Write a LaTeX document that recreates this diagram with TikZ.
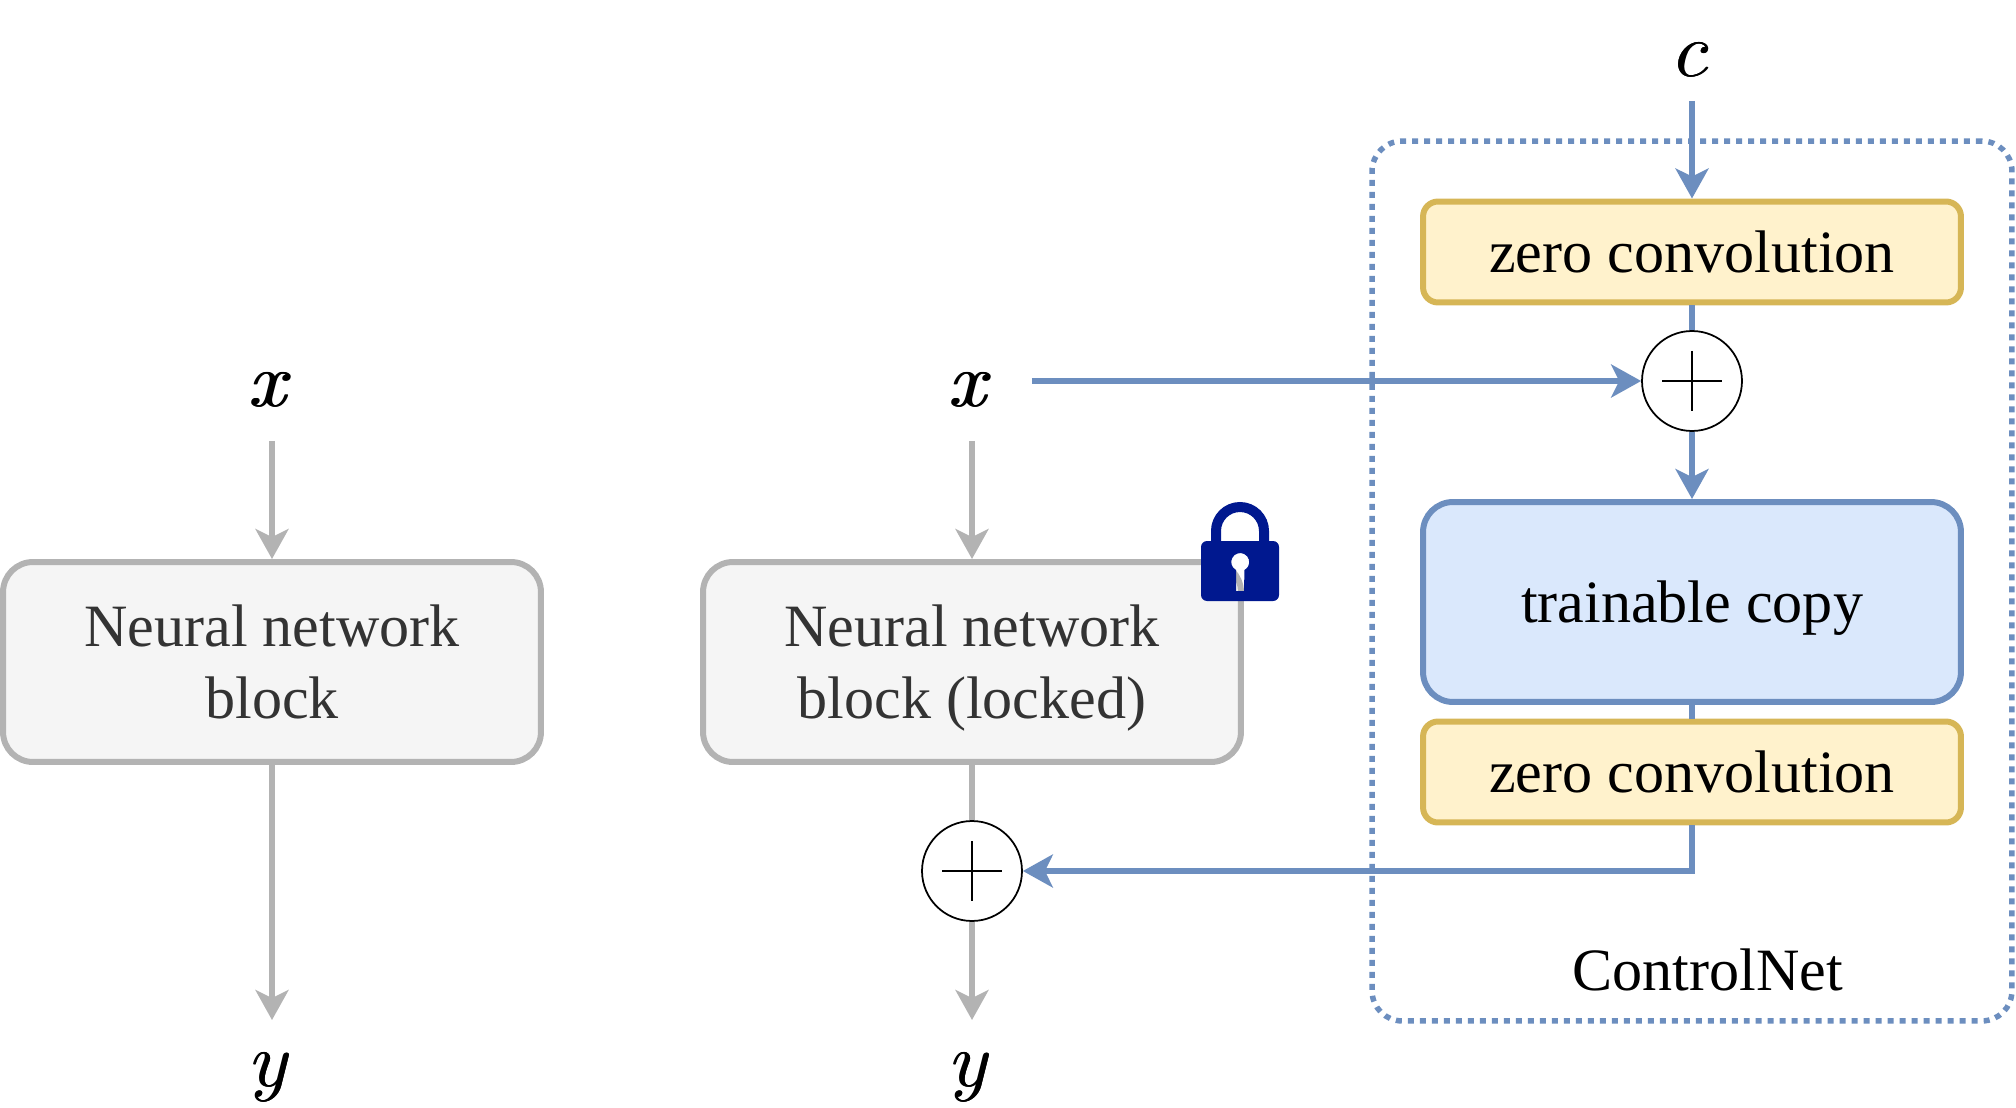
\documentclass[tikz,border=0pt]{standalone}
\usepackage{fix-cm}
\usepackage{fontspec}
\setmainfont{Liberation Serif}
\usetikzlibrary{arrows.meta}
\definecolor{blockfill}{HTML}{F5F5F5}
\definecolor{blockline}{HTML}{B3B3B3}
\definecolor{blocktext}{HTML}{333333}
\definecolor{zerofill}{HTML}{FFF2CC}
\definecolor{zeroline}{HTML}{D6B656}
\definecolor{copyfill}{HTML}{DAE8FC}
\definecolor{copyline}{HTML}{6C8EBF}
\definecolor{lockblue}{HTML}{00188F}
\newcommand{\heavymath}[1]{\rlap{$#1$}\rlap{\kern.4pt$#1$}\kern.8pt$#1$}
\tikzset{
  bigtext/.style={font=\fontsize{34.2}{41}\selectfont},
  block/.style={shape=rectangle,draw=blockline,fill=blockfill,text=blocktext,line width=.12cm,rounded corners=.6cm,
    minimum width=10.76cm,minimum height=4cm,align=center,bigtext},
  zeroconv/.style={shape=rectangle,draw=zeroline,fill=zerofill,line width=.12cm,rounded corners=.3cm,
    minimum width=10.76cm,minimum height=2.02cm,text depth=0pt,bigtext},
  trainable/.style={shape=rectangle,draw=copyline,fill=copyfill,line width=.12cm,rounded corners=.6cm,
    minimum width=10.76cm,minimum height=4cm,text depth=0pt,bigtext},
  addnode/.style={shape=circle,draw=black,fill=white,line width=.035cm,minimum size=2cm,
    path picture={\draw[line width=.035cm] (path picture bounding box.center) ++(-30,0) -- ++(60,0);
      \draw[line width=.035cm] (path picture bounding box.center) ++(0,-30) -- ++(0,60);}},
  mathlabel/.style={shape=rectangle,minimum width=2.4cm,minimum height=2.04cm,inner sep=0pt,outer sep=0pt,
    font=\fontsize{44}{53}\selectfont},
  grayline/.style={draw=blockline,line width=.115cm},
  blueline/.style={draw=copyline,line width=.12cm},
  tip/.style={-{Stealth[length=.6cm,width=.66cm,inset=.16cm]}}
}
\begin{document}
\begin{tikzpicture}[x=.02cm,y=-.02cm]
\useasboundingbox (0,0) rectangle (2016,1108);
% ControlNet frame
\node[shape=rectangle,draw=copyline,line width=.11cm,dash pattern=on .12cm off .12cm,rounded corners=.6cm,
  minimum width=12.8cm,minimum height=17.6cm] (frame) at (1692,581) {};
\node[anchor=base,bigtext] (frametext) at (1708,990) {ControlNet};
% left column
\node[block] (block1) at (272,662) {Neural network\\block};
\node[mathlabel] (x1) at (272,390) {\heavymath{x}};
\node[mathlabel,minimum height=2.28cm] (y1) at (272,1077) {\heavymath{y}};
\draw[grayline,tip] (x1) -- (block1);
\draw[grayline,tip] (block1) -- (y1);
% middle column
\node[block] (block2) at (972,662) {Neural network\\\smash{block (locked)}};
\node[mathlabel] (x2) at (972,390) {\heavymath{x}};
\node[mathlabel,minimum height=2.28cm] (y2) at (972,1077) {\heavymath{y}};
\node[addnode] (add2) at (972,871) {};
\draw[grayline,tip] (x2) -- (block2);
\draw[grayline] (block2) -- (add2);
\draw[grayline,tip] (add2) -- (y2);
% lock
\draw[lockblue,line width=.2cm] (1216,545) -- (1216,531) arc (180:360:24) -- (1264,545);
\fill[lockblue,even odd rule,rounded corners=.12cm] (1201,541) rectangle (1279,601)
  [sharp corners] (1236,591) -- (1236,570) arc (118:422:9) -- (1244,591) -- cycle;
% right column
\node[mathlabel,minimum height=1.64cm] (c) at (1692,60) {\heavymath{c}};
\node[zeroconv] (zero1) at (1692,252) {zero convolution};
\node[addnode] (add1) at (1692,381) {};
\node[trainable] (copy) at (1692,602) {trainable copy};
\node[zeroconv] (zero2) at (1692,772) {zero convolution};
\draw[blueline,tip] (c) -- (zero1);
\draw[blueline] (zero1) -- (add1);
\draw[blueline,tip] (add1) -- (copy);
\draw[blueline] (copy) -- (zero2);
\draw[blueline,tip] (x2.east |- add1.west) -- (add1);
\draw[blueline,tip] (zero2) |- (add2);
\end{tikzpicture}
\end{document}
